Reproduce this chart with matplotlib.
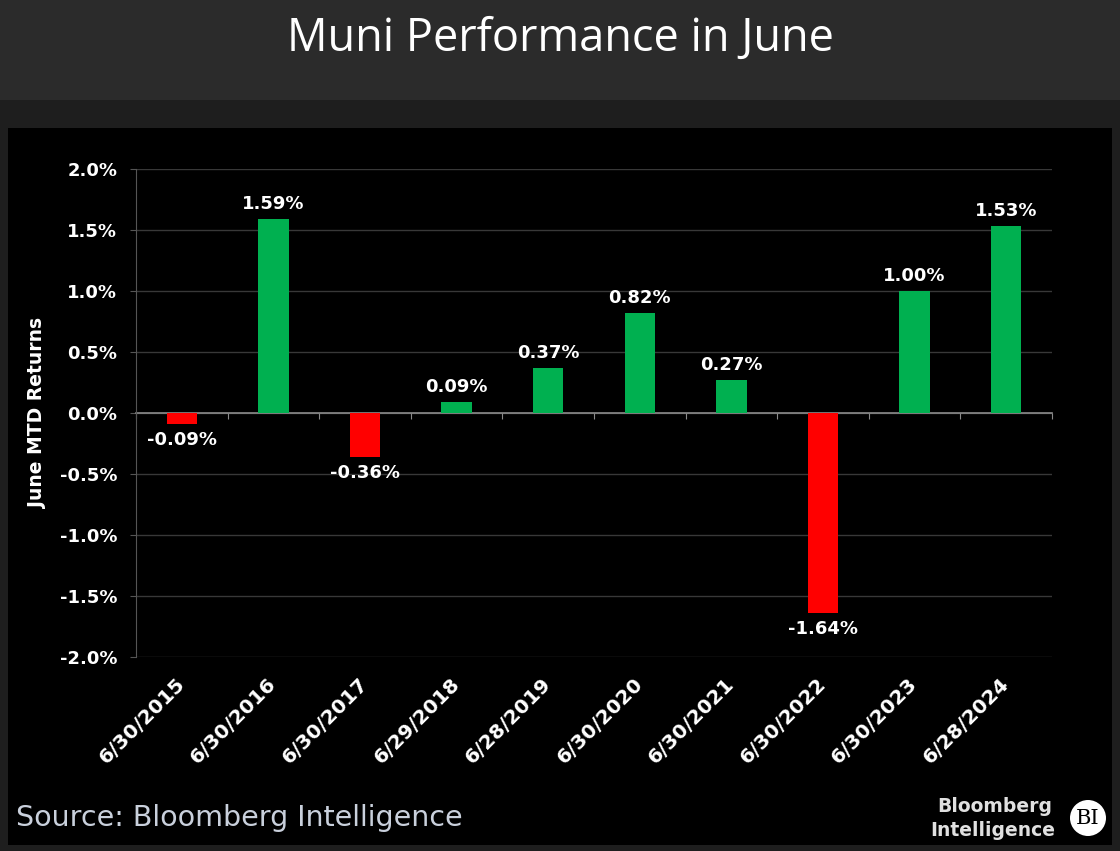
import numpy as np
import matplotlib.pyplot as plt
import matplotlib.transforms as mtransforms
from matplotlib.patches import Rectangle, Ellipse

dates = ['6/30/2015', '6/30/2016', '6/30/2017', '6/29/2018', '6/28/2019',
         '6/30/2020', '6/30/2021', '6/30/2022', '6/30/2023', '6/28/2024']
returns = [-0.09, 1.59, -0.36, 0.09, 0.37, 0.82, 0.27, -1.64, 1.00, 1.53]
yticks = [-2.0, -1.5, -1.0, -0.5, 0.0, 0.5, 1.0, 1.5, 2.0]

fig = plt.figure(figsize=(11.2, 8.51), dpi=100)
fig.patch.set_facecolor('#1e1e1e')

# header band + black panel (behind the axes)
fig.patches.append(Rectangle((0, 1 - 100 / 851), 1, 100 / 851, transform=fig.transFigure,
                             facecolor='#2b2b2b', edgecolor='none', zorder=-2))
fig.patches.append(Rectangle((8 / 1120, 6 / 851), 1104 / 1120, 717 / 851, transform=fig.transFigure,
                             facecolor='black', edgecolor='none', zorder=-2))

fig.text(0.5, 1 - 39 / 851, 'Muni Performance in June', color='white', fontsize=32.5,
         family='Open Sans', ha='center', va='center')

ax = fig.add_axes([136 / 1120, 1 - 657 / 851, 916 / 1120, 488 / 851])
ax.set_facecolor('black')

x = np.arange(len(dates))
colors = ['#00b050' if v >= 0 else '#ff0000' for v in returns]
ax.bar(x, returns, width=0.33, color=colors, zorder=3)

for xi, v in zip(x, returns):
    if v >= 0:
        ax.text(xi, v + 0.05, f'{v:.2f}%', color='white', fontsize=13, fontweight='bold',
                ha='center', va='bottom')
    else:
        ax.text(xi, v - 0.06, f'{v:.2f}%', color='white', fontsize=13, fontweight='bold',
                ha='center', va='top')

ax.set_ylim(-2.0, 2.0)
ax.set_xlim(-0.5, len(dates) - 0.5)
ax.set_yticks(yticks)
ax.set_yticklabels([f'{t:.1f}%' for t in yticks], color='white', fontsize=13, fontweight='bold')
ax.set_xticks(x)
ax.set_xticklabels(dates, rotation=45, ha='right', va='center', rotation_mode='anchor',
                   color='white', fontsize=14.5, fontweight='bold')
shift = mtransforms.ScaledTranslation(-2 / 100, 0, fig.dpi_scale_trans)
for lab in ax.get_xticklabels():
    lab.set_transform(lab.get_transform() + shift)
ax.tick_params(axis='x', length=0, pad=17)
ax.tick_params(axis='y', length=4.5, color='#555555', pad=9)
ax.grid(axis='y', color='#383838', linewidth=1, zorder=0)
for s in ['top', 'right', 'bottom']:
    ax.spines[s].set_visible(False)
ax.spines['left'].set_color('#555555')
ax.set_ylabel('June MTD Returns', color='white', fontsize=13.5, fontweight='bold')
ax.yaxis.set_label_coords(-0.097, 0.5)

# zero line with category-boundary ticks pointing down
zero = ax.secondary_xaxis(0.49999)
zero.set_xticks(np.arange(len(dates) + 1) - 0.5)
zero.set_xticklabels([])
zero.tick_params(axis='x', length=4, color='#8a8a8a', direction='out')
for s in zero.spines.values():
    s.set_color('#8a8a8a')
    s.set_linewidth(1.2)
zero.set_zorder(2)

fig.text(16 / 1120, 1 - 818 / 851, 'Source: Bloomberg Intelligence', color='#c9d0dc',
         fontsize=20.5, family='DejaVu Sans', ha='left', va='center')

fig.text(1052 / 1120, 1 - 806 / 851, 'Bloomberg', color='#e0e0e0', fontsize=13.5,
         fontweight='bold', ha='right', va='center')
fig.text(1055 / 1120, 1 - 830 / 851, 'Intelligence', color='#e0e0e0', fontsize=13.5,
         fontweight='bold', ha='right', va='center')
fig.patches.append(Ellipse((1088 / 1120, 1 - 818 / 851), 36 / 1120, 36 / 851,
                           transform=fig.transFigure, facecolor='white', edgecolor='none'))
fig.text(1088 / 1120, 1 - 818 / 851, 'BI', color='black', fontsize=15, family='DejaVu Serif',
         ha='center', va='center')

fig.savefig('out.png', dpi=100, facecolor=fig.get_facecolor())
